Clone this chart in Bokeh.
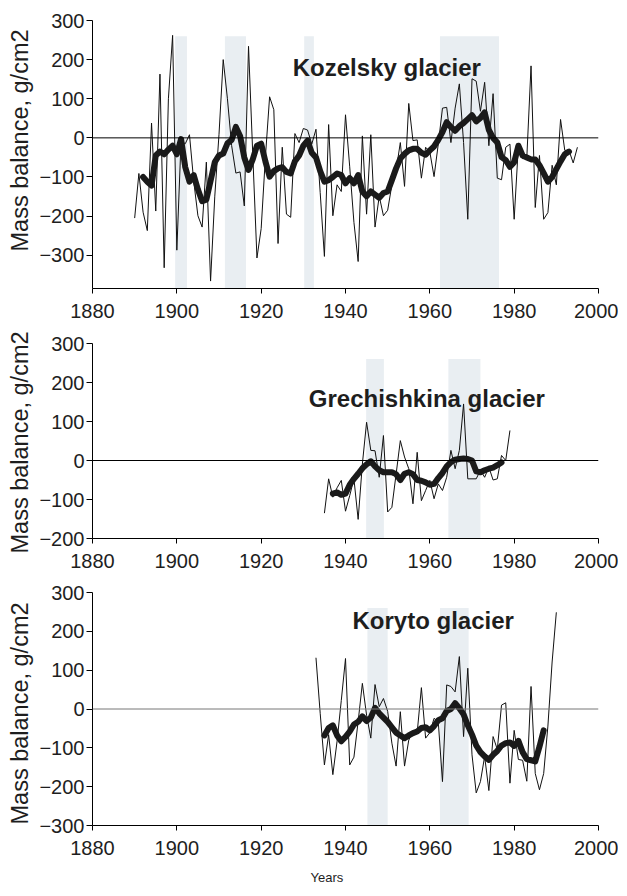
from bokeh.plotting import figure
from bokeh.layouts import column
from bokeh.models import Span, Label, FixedTicker, Range1d, Title
from bokeh.embed import file_html
from bokeh.resources import INLINE

# ---------------- data ----------------
koz_thin_start = 1890
koz_thin = [-205, -91, -190, -237, 38, -187, 163, -332, 100, 262,
            -287, -8, -15, 8, -110, -199, -228, -62, -366, -149,
            9, 200, 100, -20, -90, -87, -174, 234, -40, -307,
            -232, -50, 105, 72, -270, -24, -195, -203, 11, -12,
            24, 20, -16, 22, -140, -303, 34, -199, -120, -137,
            59, -74, -216, -316, 5, -195, 8, -228, -149, -199,
            -185, -120, -83, -12, -124, 88, -7, -5, -103, -24,
            -36, -99, -16, 76, 78, -12, 76, 138, -12, -208,
            151, 145, 68, 142, -20, 113, -103, -107, -24, -16,
            -208, -20, -53, -50, 184, -178, -45, -208, -191, -70,
            -120, 47, -32, -32, -64, -24]
koz_thick_start = 1892
koz_thick = [-100, -112, -122, -45, -35, -42, -30, -20, -42, -3,
             -75, -112, -95, -132, -162, -158, -110, -62, -45, -40,
             -14, -5, 28, 5, -50, -82, -55, -20, -15, -60,
             -99, -85, -78, -75, -87, -91, -60, -45, -20, -7,
             -38, -50, -85, -112, -108, -100, -91, -95, -116, -103,
             -116, -95, -137, -149, -137, -145, -153, -141, -137, -108,
             -78, -53, -41, -32, -28, -28, -38, -43, -32, -22,
             -5, 15, 40, 28, 18, 30, 38, 48, 58, 42,
             51, 65, 20, 0, -12, -49, -57, -74, -62, -20,
             -45, -50, -55, -55, -70, -90, -112, -100, -80, -60,
             -42, -35]
koz_band_start = [1899.6, 1911.4, 1930.2, 1962.4]
koz_band_end = [1902.4, 1916.4, 1932.5, 1976.4]

gre_thin_start = 1935
gre_thin = [-135, -47, -94, -70, -51, -130, -90, -47, -151, -9,
            98, 26, 25, -43, 64, -132, -120, -35, 51, 9,
            -21, -111, 21, -103, -77, -51, -98, -60, -77, -43,
            26, -21, 26, 145, -47, -47, -47, -25, -43, -17,
            -50, -47, 13, 0, 77]
gre_thick_start = 1937
gre_thick = [-85, -82, -88, -85, -62, -47, -34, -20, -10, -2,
             -15, -25, -30, -30, -30, -35, -50, -34, -30, -35,
             -50, -52, -56, -62, -60, -45, -32, -15, -4, 2,
             4, 5, 4, 0, -28, -30, -25, -21, -18, -12,
             -5]
gre_band_start = [1944.9, 1964.4]
gre_band_end = [1949.1, 1972.0]

kor_thin_start = 1933
kor_thin = [132, -11, -144, -66, -169, -83, 22, 130, -144, -124,
            -32, 66, -16, -75, 63, 6, 27, -6, -88, -147,
            -7, -147, -80, -58, -61, 55, -75, -61, -24, -33,
            -187, 62, 58, 44, 135, -71, 105, -118, -216, -187,
            -122, -210, -71, -104, 10, 16, -191, -55, -130, -132,
            -186, 58, -166, -208, -166, -44, 121, 249]
kor_thick_start = 1935
kor_thick = [-68, -49, -42, -68, -83, -72, -58, -40, -33, -19,
             -31, -22, 3, -11, -22, -33, -47, -61, -68, -75,
             -68, -62, -58, -49, -47, -55, -44, -29, -24, -5,
             0, 15, 2, -14, -42, -66, -94, -111, -122, -131,
             -118, -108, -94, -88, -86, -95, -82, -111, -129, -132,
             -135, -97, -55]
kor_band_start = [1945.2, 1962.4]
kor_band_end = [1950.0, 1969.2]

x_ticks = [1880, 1900, 1920, 1940, 1960, 1980, 2000]
band_top = 260

FONT = "Liberation Sans"
INK = "#1e1e1e"


def make_panel(height, b_top, b_bottom, y0, y1, yticks, bs, be,
               thin_start, thin, thick_start, thick, title, tx, ty, ylab_off,
               zero_color="#000000", years=False):
    p = figure(width=618, height=height, x_range=Range1d(1880, 2000),
               y_range=Range1d(y0, y1), output_backend="svg",
               toolbar_location=None, min_border_left=92, min_border_right=20,
               min_border_top=b_top, min_border_bottom=b_bottom)
    p.outline_line_color = None
    p.grid.visible = False
    p.background_fill_color = "white"

    p.quad(left=bs, right=be, bottom=[y0] * len(bs), top=[band_top] * len(bs),
           fill_color="#e9eef2", line_color=None)

    p.add_layout(Span(location=0, dimension="width", line_color=zero_color,
                      line_width=1))

    xs = list(range(thin_start, thin_start + len(thin)))
    p.line(xs, thin, line_color="#111111", line_width=1)
    xk = list(range(thick_start, thick_start + len(thick)))
    p.line(xk, thick, line_color="#1a1a1a", line_width=6,
           line_join="round", line_cap="round")

    for ax in (p.xaxis[0], p.yaxis[0]):
        ax.axis_line_color = "#000000"
        ax.major_tick_line_color = "#000000"
        ax.minor_tick_line_color = None
        ax.major_tick_in = 0
        ax.major_label_text_font = FONT
        ax.major_label_text_font_size = "20px"
        ax.major_label_text_color = INK
    p.xaxis.ticker = FixedTicker(ticks=x_ticks)
    p.xaxis.major_tick_out = 5
    p.xaxis.major_label_standoff = 10
    p.yaxis.ticker = FixedTicker(ticks=yticks)
    p.yaxis.major_tick_out = 6
    p.yaxis.major_label_standoff = 2

    p.add_layout(Label(x=tx, y=ty, text=title, text_font=FONT,
                       text_font_style="bold", text_font_size="24px",
                       text_color=INK, text_align="center",
                       text_baseline="middle"))
    p.add_layout(Title(text="Mass balance, g/cm2", align="left",
                       text_font=FONT, text_font_size="23.5px",
                       text_font_style="normal", text_color=INK,
                       offset=ylab_off, standoff=8), "left")
    if years:
        p.add_layout(Title(text="Years", align="left", text_font=FONT,
                           text_font_size="13px", text_font_style="normal",
                           text_color=INK, offset=218, standoff=21), "below")
    return p


p1 = make_panel(328, 20, 40, -385, 300, [-300, -200, -100, 0, 100, 200, 300],
                koz_band_start, koz_band_end,
                koz_thin_start, koz_thin, koz_thick_start, koz_thick,
                "Kozelsky glacier", 1949.8, 180, 37)
p2 = make_panel(252, 15, 42, -200, 300, [-200, -100, 0, 100, 200, 300],
                gre_band_start, gre_band_end,
                gre_thin_start, gre_thin, gre_thick_start, gre_thick,
                "Grechishkina glacier", 1959.3, 160, -15)
p3 = make_panel(315, 12, 70, -300, 300, [-300, -200, -100, 0, 100, 200, 300],
                kor_band_start, kor_band_end,
                kor_thin_start, kor_thin, kor_thick_start, kor_thick,
                "Koryto glacier", 1960.8, 228, 1, zero_color="#777777", years=True)

layout = column(p1, p2, p3, spacing=0)
open("out.html", "w").write(file_html(layout, INLINE))
